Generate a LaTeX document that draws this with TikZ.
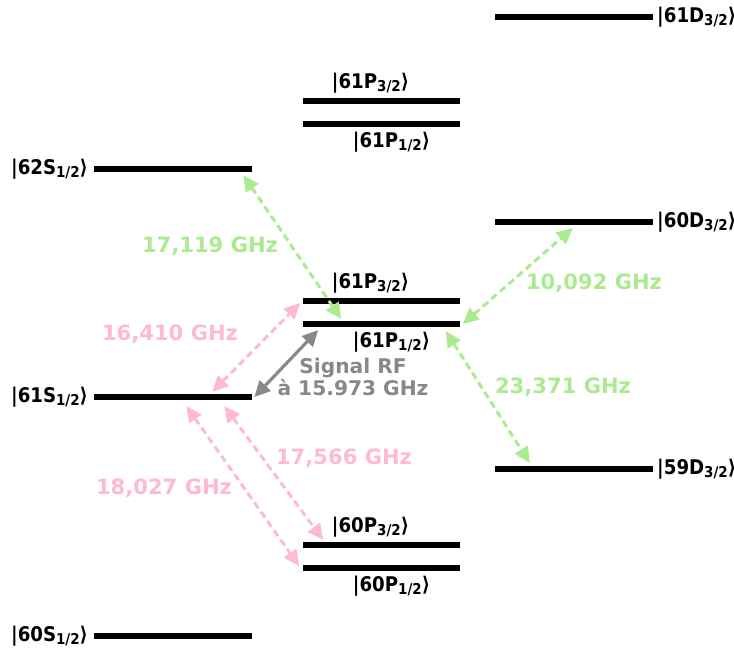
\documentclass[tikz,border=0pt]{standalone}
\usepackage{fontspec}
\setmainfont{DejaVu Sans}
\newfontfamily\ketfont{DejaVu Sans Condensed}
\usetikzlibrary{positioning,arrows.meta,calc}
\definecolor{TransGreen}{RGB}{170,235,145}
\definecolor{TransPink}{RGB}{255,187,206}
\definecolor{SignalGray}{RGB}{136,136,136}
\newcommand{\lsub}[1]{\raisebox{-0.35ex}{\fontsize{8.5}{9}\selectfont #1}}

\begin{document}
\begin{tikzpicture}[x=0.02cm, y=-0.02cm,
  level/.style={fill=black, inner sep=0pt, minimum width=3.16cm, minimum height=0.11cm},
  ket/.style={font=\ketfont\bfseries\fontsize{11.5}{13}\selectfont, inner sep=1pt},
  freq/.style={font=\bfseries\fontsize{12}{14}\selectfont, align=center},
  greenlink/.style={{Triangle[length=9pt,width=8.5pt]}-{Triangle[length=9pt,width=8.5pt]}, TransGreen, line width=1.7pt, dash pattern=on 4pt off 2.5pt},
  pinklink/.style={greenlink, TransPink}]
  \useasboundingbox (0,0) rectangle (734,652);
  % S levels
  \node[level] (s62) at (173,169) {};
  \node[level] (s61) at (173,397) {};
  \node[level] (s60) at (173,636) {};
  \node[ket, left=2pt of s62] (s62l) {|62S\lsub{1/2}⟩};
  \node[ket, left=2pt of s61] (s61l) {|61S\lsub{1/2}⟩};
  \node[ket, left=2pt of s60] (s60l) {|60S\lsub{1/2}⟩};
  % P levels
  \node[level] (pup3) at (381.5,101) {};
  \node[level] (pup1) at (381.5,124) {};
  \node[level] (pmid3) at (381.5,301) {};
  \node[level] (pmid1) at (381.5,324) {};
  \node[level] (plow3) at (381.5,545) {};
  \node[level] (plow1) at (381.5,568) {};
  \node[ket] (pup3l) at ($(pup3)+(-11,-18)$) {|61P\lsub{3/2}⟩};
  \node[ket] (pup1l) at ($(pup1)+(10,18)$) {|61P\lsub{1/2}⟩};
  \node[ket] (pmid3l) at ($(pmid3)+(-11,-18)$) {|61P\lsub{3/2}⟩};
  \node[ket] (pmid1l) at ($(pmid1)+(10,18)$) {|61P\lsub{1/2}⟩};
  \node[ket] (plow3l) at ($(plow3)+(-11,-18)$) {|60P\lsub{3/2}⟩};
  \node[ket] (plow1l) at ($(plow1)+(10,18)$) {|60P\lsub{1/2}⟩};
  % D levels
  \node[level] (d61) at (574,17) {};
  \node[level] (d60) at (574,222) {};
  \node[level] (d59) at (574,469) {};
  \node[ket, right=1pt of d61] (d61l) {|61D\lsub{3/2}⟩};
  \node[ket, right=1pt of d60] (d60l) {|60D\lsub{3/2}⟩};
  \node[ket, right=1pt of d59] (d59l) {|59D\lsub{3/2}⟩};
  % transitions
  \draw[greenlink] ($(s62.south east)+(-9,3)$) -- ($(pmid1.north west)+(39,-2)$);
  \draw[greenlink] ($(pmid1.east)+(2,0)$) -- ($(d60.south west)+(78,3)$);
  \draw[greenlink] ($(pmid1.south east)+(-15,4)$) -- ($(d59.north west)+(35,-3)$);
  \draw[pinklink] ($(s61.north east)+(-40,-2)$) -- ($(pmid3.west)+(-2,2)$);
  \draw[pinklink] ($(s61.south east)+(-28,6)$) -- ($(plow3.north west)+(21,-2)$);
  \draw[pinklink] ($(s61.south east)+(-66,6)$) -- ($(plow1.west)+(-3,-2)$);
  \draw[{Triangle[length=9pt,width=8.5pt]}-{Triangle[length=9pt,width=8.5pt]}, SignalGray, line width=1.8pt] ($(s61.east)+(2,0)$) -- ($(pmid1.south west)+(16,3)$);
  % frequencies
  \node[freq, TransGreen] (f1) at (210,246) {17,119 GHz};
  \node[freq, TransGreen] (f2) at (594,283) {10,092 GHz};
  \node[freq, TransGreen] (f3) at (563,387) {23,371 GHz};
  \node[freq, TransPink] (f4) at (170,334) {16,410 GHz};
  \node[freq, TransPink] (f5) at (344,458) {17,566 GHz};
  \node[freq, TransPink] (f6) at (164,488) {18,027 GHz};
  \node[freq, SignalGray, font=\bfseries\fontsize{11.5}{11}\selectfont] (rf) at (353,377) {Signal RF\\à 15.973 GHz};
\end{tikzpicture}
\end{document}
